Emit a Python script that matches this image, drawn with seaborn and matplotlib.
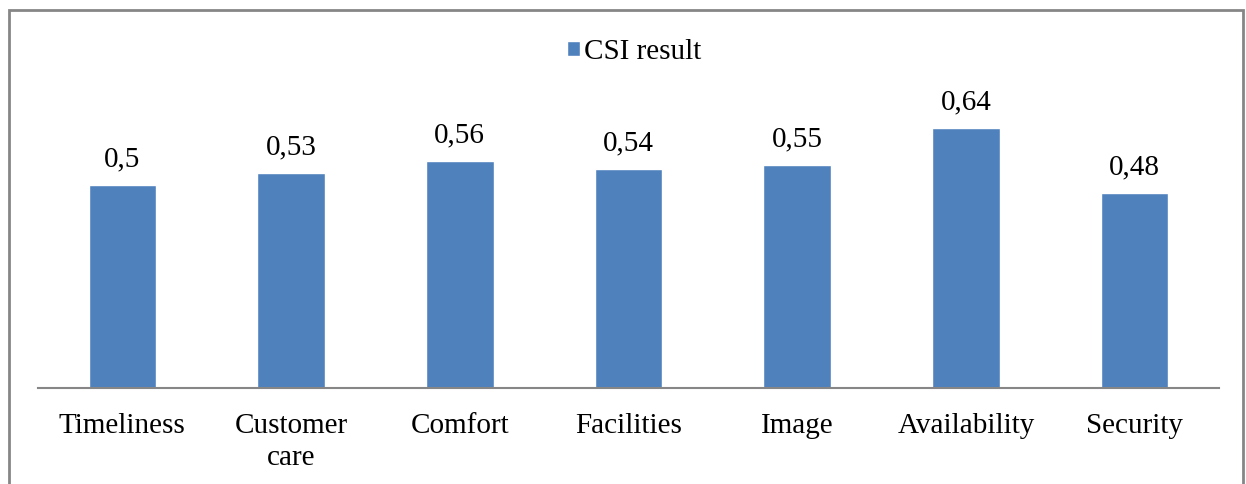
import matplotlib.pyplot as plt
import seaborn as sns
import pandas as pd
from matplotlib.patches import Rectangle

categories = ["Timeliness", "Customer\ncare", "Comfort", "Facilities", "Image", "Availability", "Security"]
csi_values = [0.50, 0.53, 0.56, 0.54, 0.55, 0.64, 0.48]
series_name = "CSI result"

df = pd.DataFrame({"category": categories, "value": csi_values})

sns.set_style("white")
plt.rcParams["font.family"] = ["Liberation Serif", "DejaVu Serif"]
plt.rcParams["text.color"] = "black"
plt.rcParams["xtick.color"] = "black"

fig = plt.figure(figsize=(12.46, 4.84), dpi=100)
ax = fig.add_axes([38 / 1246, 1 - 388 / 484, (1219 - 38) / 1246, (388 - 104) / 484])

bar_color = "#4F81BD"
sns.barplot(data=df, x="category", y="value", color=bar_color, width=0.4,
            label=series_name, ax=ax, saturation=1)

ax.set_ylim(0, 0.7)
ax.set_xlim(-0.5, len(categories) - 0.5)
ax.set_xlabel("")
ax.set_ylabel("")
ax.set_yticks([])
for s in ["top", "right", "left"]:
    ax.spines[s].set_visible(False)
ax.spines["bottom"].set_color("#868686")
ax.spines["bottom"].set_linewidth(1.5)
ax.tick_params(axis="x", length=0, pad=18, labelsize=21, labelcolor="black")
for t in ax.get_xticklabels():
    t.set_linespacing(1.3)

for p, v in zip(ax.patches, csi_values):
    label = f"{v:.2f}".rstrip("0").replace(".", ",")
    ax.annotate(label, (p.get_x() + p.get_width() / 2, p.get_height()),
                xytext=(0, 9), textcoords="offset points",
                ha="center", va="bottom", fontsize=21, color="black")

leg = ax.legend(loc="center", bbox_to_anchor=(0.509, 0.893), bbox_transform=fig.transFigure,
                frameon=False, fontsize=21, handlelength=0.45, handleheight=0.45,
                handletextpad=0.15)
for t in leg.get_texts():
    t.set_color("black")

fig.patches.append(Rectangle((9 / 1246, -0.05), (1243 - 9) / 1246, 1.05 - 10 / 484,
                             transform=fig.transFigure, fill=False,
                             edgecolor="#868686", linewidth=2))

fig.savefig("out.png", dpi=100)
